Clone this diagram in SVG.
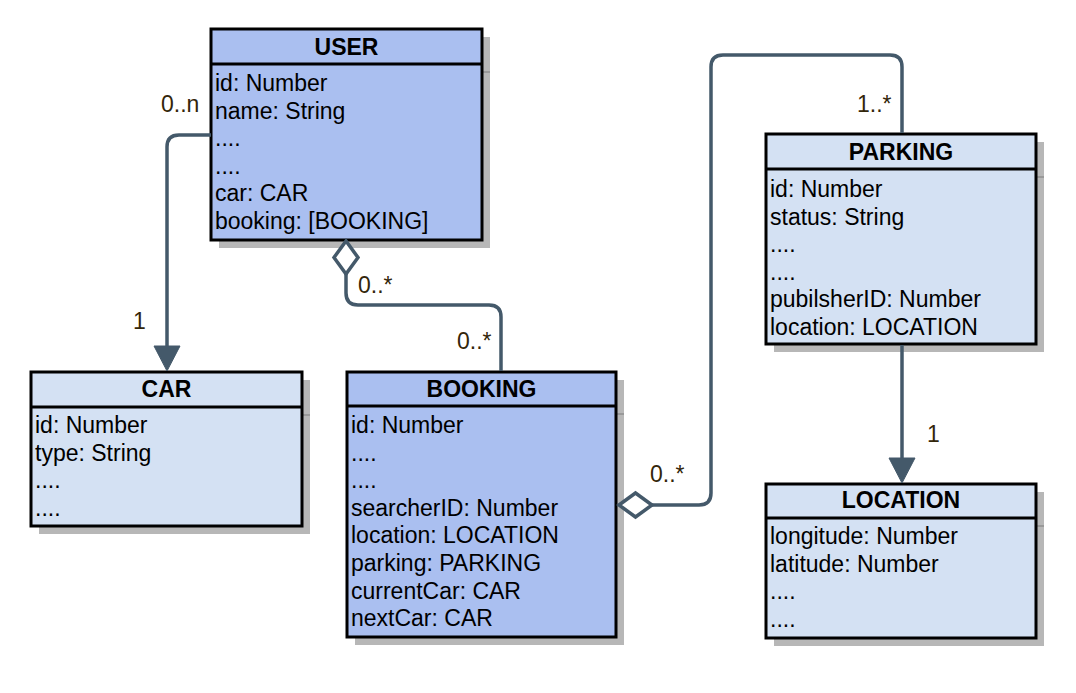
<svg xmlns="http://www.w3.org/2000/svg" width="1076" height="693" viewBox="0 0 1076 693">
<style>
.box{stroke:#000;stroke-width:3}
.dark{fill:#aabff0}
.light{fill:#d4e1f3}
.shadow{fill:#b7b7b7}
.sline{stroke:#999;stroke-width:2}
.div{stroke:#000;stroke-width:3}
.title{font-family:"Liberation Sans",Arial,sans-serif;font-size:23px;font-weight:bold;fill:#000;text-anchor:middle}
.attr{font-family:"Liberation Sans",Arial,sans-serif;font-size:23px;fill:#000}
.lbl{font-family:"Liberation Sans",Arial,sans-serif;font-size:23px;fill:#33260a}
.conn{fill:none;stroke:#44596a;stroke-width:3.5}
.head{fill:#44596a;stroke:#44596a;stroke-width:1}
.dia{fill:#fff;stroke:#44596a;stroke-width:3.5}
</style>
<rect width="1076" height="693" fill="#fff"/>

<g id="user">
<rect class="shadow" x="219" y="37" width="271" height="211"/>
<line class="sline" x1="483" y1="72" x2="490" y2="72"/>
<rect class="box dark" x="211" y="29" width="271" height="211"/>
<line class="div" x1="211" y1="64" x2="482" y2="64"/>
<text class="title" x="346.5" y="55">USER</text>
<text class="attr" x="215" y="91">id: Number</text>
<text class="attr" x="215" y="118.6">name: String</text>
<text class="attr" x="215" y="146.2">....</text>
<text class="attr" x="215" y="173.8">....</text>
<text class="attr" x="215" y="201.4">car: CAR</text>
<text class="attr" x="215" y="229">booking: [BOOKING]</text>
</g>

<g id="car">
<rect class="shadow" x="39" y="380" width="271" height="154"/>
<line class="sline" x1="303" y1="415" x2="310" y2="415"/>
<rect class="box light" x="31" y="372" width="271" height="154"/>
<line class="div" x1="31" y1="407" x2="302" y2="407"/>
<text class="title" x="166.5" y="397">CAR</text>
<text class="attr" x="35" y="433">id: Number</text>
<text class="attr" x="35" y="460.6">type: String</text>
<text class="attr" x="35" y="488.2">....</text>
<text class="attr" x="35" y="515.8">....</text>
</g>

<g id="booking">
<rect class="shadow" x="355" y="380" width="269" height="265"/>
<line class="sline" x1="617" y1="414" x2="624" y2="414"/>
<rect class="box dark" x="347" y="372" width="269" height="265"/>
<line class="div" x1="347" y1="406" x2="616" y2="406"/>
<text class="title" x="481.5" y="397">BOOKING</text>
<text class="attr" x="351" y="433">id: Number</text>
<text class="attr" x="351" y="460.6">....</text>
<text class="attr" x="351" y="488.2">....</text>
<text class="attr" x="351" y="515.8">searcherID: Number</text>
<text class="attr" x="351" y="543.4">location: LOCATION</text>
<text class="attr" x="351" y="571">parking: PARKING</text>
<text class="attr" x="351" y="598.6">currentCar: CAR</text>
<text class="attr" x="351" y="626.2">nextCar: CAR</text>
</g>

<g id="parking">
<rect class="shadow" x="774" y="142" width="270" height="210"/>
<line class="sline" x1="1037" y1="177" x2="1044" y2="177"/>
<rect class="box light" x="766" y="134" width="270" height="210"/>
<line class="div" x1="766" y1="169" x2="1036" y2="169"/>
<text class="title" x="901" y="160">PARKING</text>
<text class="attr" x="770" y="197">id: Number</text>
<text class="attr" x="770" y="224.6">status: String</text>
<text class="attr" x="770" y="252.2">....</text>
<text class="attr" x="770" y="279.8">....</text>
<text class="attr" x="770" y="307.4">pubilsherID: Number</text>
<text class="attr" x="770" y="335">location: LOCATION</text>
</g>

<g id="location">
<rect class="shadow" x="774" y="492" width="270" height="154"/>
<line class="sline" x1="1037" y1="526" x2="1044" y2="526"/>
<rect class="box light" x="766" y="484" width="270" height="154"/>
<line class="div" x1="766" y1="518" x2="1036" y2="518"/>
<text class="title" x="901" y="508">LOCATION</text>
<text class="attr" x="770" y="544">longitude: Number</text>
<text class="attr" x="770" y="571.6">latitude: Number</text>
<text class="attr" x="770" y="599.2">....</text>
<text class="attr" x="770" y="626.8">....</text>
</g>

<g id="connectors">
<path class="conn" d="M211,135 H179 Q167,135 167,147 V347"/>
<polygon class="head" points="154,346 180,346 167,371"/>
<path class="conn" d="M346,274 V293 Q346,305 358,305 H489 Q501,305 501,317 V371"/>
<polygon class="dia" points="346,241 334,257.5 346,274 358,257.5"/>
<path class="conn" d="M652,505 H699 Q711,505 711,493 V67 Q711,55 723,55 H890 Q902,55 902,67 V133"/>
<polygon class="dia" points="619,505 635.5,493 652,505 635.5,517"/>
<path class="conn" d="M902,345 V459"/>
<polygon class="head" points="889,458 915,458 902,483"/>
<text class="lbl" x="161" y="112">0..n</text>
<text class="lbl" x="133" y="329">1</text>
<text class="lbl" x="358" y="293">0..*</text>
<text class="lbl" x="457" y="349">0..*</text>
<text class="lbl" x="650" y="482">0..*</text>
<text class="lbl" x="857" y="112">1..*</text>
<text class="lbl" x="927" y="442">1</text>
</g>
</svg>
